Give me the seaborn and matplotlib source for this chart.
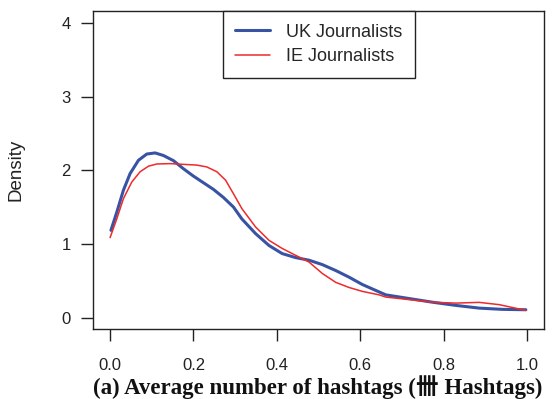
import matplotlib
matplotlib.use("Agg")
import matplotlib.pyplot as plt
import pandas as pd
import seaborn as sns

# Density curves of average hashtags per tweet
uk_x = [0.002, 0.016, 0.032, 0.048, 0.068, 0.088, 0.108, 0.128, 0.152, 0.176,
        0.200, 0.224, 0.248, 0.272, 0.296, 0.316, 0.349, 0.381, 0.4125, 0.445,
        0.477, 0.509, 0.541, 0.573, 0.605, 0.645, 0.661, 0.717, 0.773, 0.829,
        0.885, 0.941, 0.997]
uk_density = [1.185, 1.43, 1.73, 1.955, 2.135, 2.22, 2.235, 2.20, 2.13, 2.02,
              1.92, 1.83, 1.74, 1.63, 1.50, 1.34, 1.14, 0.98, 0.87, 0.815,
              0.78, 0.72, 0.64, 0.55, 0.45, 0.35, 0.31, 0.26, 0.21, 0.167,
              0.13, 0.113, 0.108]

ie_x = [0.000, 0.016, 0.032, 0.052, 0.072, 0.092, 0.112, 0.144, 0.176, 0.208,
        0.232, 0.256, 0.277, 0.296, 0.316, 0.349, 0.381, 0.4125, 0.445, 0.477,
        0.509, 0.541, 0.573, 0.605, 0.645, 0.661, 0.717, 0.773, 0.829, 0.885,
        0.933, 0.997]
ie_density = [1.086, 1.34, 1.615, 1.84, 1.98, 2.055, 2.085, 2.09, 2.08, 2.07,
              2.045, 1.98, 1.865, 1.68, 1.48, 1.23, 1.05, 0.94, 0.846, 0.755,
              0.60, 0.48, 0.41, 0.357, 0.31, 0.28, 0.245, 0.21, 0.198, 0.208,
              0.177, 0.099]

series_labels = ["UK Journalists", "IE Journalists"]
x_ticks = [0.0, 0.2, 0.4, 0.6, 0.8, 1.0]
y_ticks = [0, 1, 2, 3, 4]
x_label = "(a) Average number of hashtags (\u534c Hashtags)"
y_label = "Density"

uk_df = pd.DataFrame({"x": uk_x, "density": uk_density})
ie_df = pd.DataFrame({"x": ie_x, "density": ie_density})

sns.set_theme(style="ticks")
plt.rcParams["font.family"] = ["Liberation Sans", "DejaVu Sans"]
plt.rcParams["axes.edgecolor"] = "#222222"
plt.rcParams["axes.linewidth"] = 1.0

fig = plt.figure(figsize=(5.56, 3.99), dpi=100)
ax = fig.add_axes([0.168, 0.1742, 0.81, 0.7982])

sns.lineplot(data=uk_df, x="x", y="density", ax=ax, color="#3953A4",
             linewidth=2.2, label=series_labels[0], estimator=None)
sns.lineplot(data=ie_df, x="x", y="density", ax=ax, color="#EE2A2A",
             linewidth=1.1, label=series_labels[1], estimator=None)

ax.set_xlim(-0.04, 1.04)
ax.set_ylim(-0.16, 4.16)
ax.set_xticks(x_ticks)
ax.set_xticklabels([f"{v:.1f}" for v in x_ticks])
ax.set_yticks(y_ticks)
ax.set_yticklabels([str(v) for v in y_ticks])
for side in ["top", "right", "left", "bottom"]:
    ax.spines[side].set_visible(True)
    ax.spines[side].set_color("#222222")
ax.tick_params(axis="both", direction="out", length=8.3, width=1.0,
               color="#222222", labelsize=12, labelcolor="#222222")
ax.tick_params(axis="x", pad=12)
ax.tick_params(axis="y", pad=8)

ax.set_xlabel("")
ax.set_ylabel(y_label, fontsize=13.5, color="#222222")
ax.yaxis.set_label_coords(-0.152, 0.5)

fig.text(0.572, 0.031, x_label, ha="center", va="center", fontsize=16.5,
         fontweight="bold", color="#111111",
         family=["Liberation Serif", "Noto Sans CJK SC"])

leg = ax.legend(loc="upper center", bbox_to_anchor=(0.5, 1.0), fontsize=13,
                frameon=True, fancybox=False, borderaxespad=0.0,
                handlelength=1.95, handletextpad=0.85, labelspacing=0.4,
                borderpad=0.7)
leg.get_frame().set_edgecolor("#222222")
leg.get_frame().set_linewidth(1.0)
leg.get_frame().set_alpha(1.0)

fig.savefig("out.png", dpi=100)
